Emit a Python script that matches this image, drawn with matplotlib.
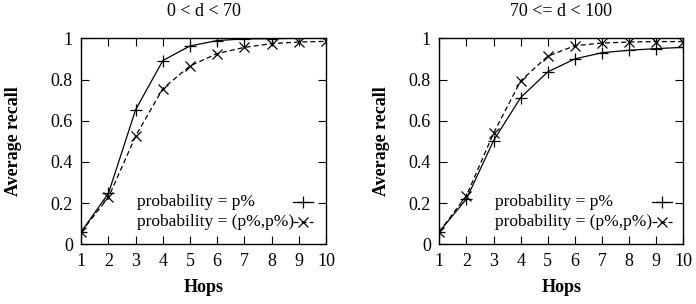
import matplotlib
matplotlib.use("Agg")
import matplotlib.pyplot as plt
from matplotlib.lines import Line2D

hops = [1, 2, 3, 4, 5, 6, 7, 8, 9, 10]
titles = ["0 < d < 70", "70 <= d < 100"]
labels = ["probability = p%", "probability = (p%,p%)"]
left_p = [0.061, 0.248, 0.654, 0.892, 0.963, 0.989, 0.997, 0.998, 1.0, 1.0]
left_pp = [0.061, 0.228, 0.526, 0.756, 0.866, 0.926, 0.956, 0.974, 0.982, 0.985]
right_p = [0.061, 0.220, 0.503, 0.712, 0.837, 0.900, 0.930, 0.942, 0.950, 0.956]
right_pp = [0.061, 0.236, 0.539, 0.793, 0.913, 0.964, 0.977, 0.982, 0.984, 0.984]
yticks = [0, 0.2, 0.4, 0.6, 0.8, 1]
ytick_labels = ["0", "0.2", "0.4", "0.6", "0.8", "1"]

plt.rcParams['font.family'] = ['Liberation Serif', 'DejaVu Serif']

fig = plt.figure(figsize=(6.96, 3.04), dpi=100)
W, H = 696, 304
axes_px = [(81.3, 38.3, 326.0, 244.3), (439.3, 38.3, 683.3, 244.3)]
data = [(left_p, left_pp), (right_p, right_pp)]
ylabel_x = [13, 382]
legend_text_x = [137, 494.7]
legend_sample = [(293, 313), (652, 672)]
FS = 13

styles = [dict(color='black', lw=0.9, ls='-', marker='+', ms=9, mew=0.9),
          dict(color='black', lw=0.9, ls=(0, (4, 2.5)), marker='x', ms=7, mew=0.9)]

for i, ((x0, y0, x1, y1), title, series) in enumerate(zip(axes_px, titles, data)):
    ax = fig.add_axes([x0 / W, 1 - y1 / H, (x1 - x0) / W, (y1 - y0) / H])
    for vals, st in zip(series, styles):
        ax.plot(hops, vals, **st)
    ax.set_xlim(1, 10)
    ax.set_ylim(0, 1)
    ax.set_xticks(hops)
    ax.set_yticks(yticks)
    ax.set_yticklabels(ytick_labels)
    ax.tick_params(direction='in', top=True, right=True, length=6,
                   width=0.8, labelsize=FS)
    ax.tick_params(axis='y', pad=6)
    ax.tick_params(axis='x', pad=6)
    for s in ax.spines.values():
        s.set_linewidth(1.0)
    cx = (x0 + x1) / 2 / W
    fig.text(cx, 1 - 12 / H, title, fontsize=FS, ha='center', va='center')
    fig.text(cx, 1 - 287 / H, "Hops", fontsize=FS, fontweight='bold',
             ha='center', va='center')
    fig.text(ylabel_x[i] / W, 1 - (y0 + y1) / 2 / H, "Average recall",
             fontsize=FS, fontweight='bold', rotation=90,
             ha='center', va='center')
    # gnuplot-style key
    for j, (lab, st) in enumerate(zip(labels, styles)):
        ypx = 202 + 20 * j
        fig.text(legend_text_x[i] / W, 1 - ypx / H, lab, fontsize=12.5,
                 ha='left', va='center')
        sx0, sx1 = legend_sample[i]
        fig.add_artist(Line2D([sx0 / W, sx1 / W], [1 - ypx / H, 1 - ypx / H],
                              transform=fig.transFigure,
                              color=st['color'], lw=st['lw'], ls=st['ls']))
        fig.add_artist(Line2D([(sx0 + sx1) / 2 / W], [1 - ypx / H],
                              transform=fig.transFigure, ls='none',
                              color=st['color'], marker=st['marker'],
                              ms=st['ms'], mew=st['mew']))

fig.savefig("out.png", dpi=100)
